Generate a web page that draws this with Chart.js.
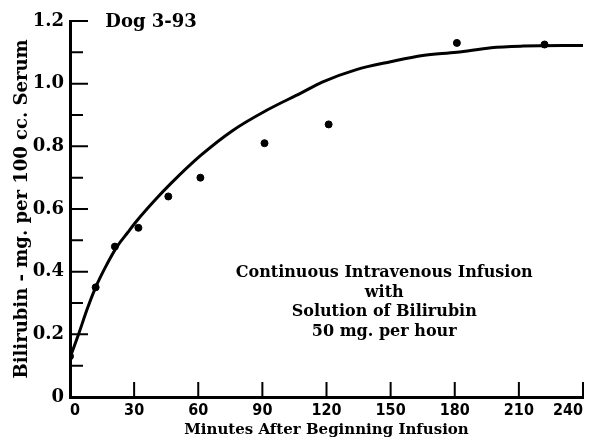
<!DOCTYPE html>
<html>
<head>
<meta charset="utf-8">
<script src="https://cdn.jsdelivr.net/npm/chart.js@4.4.1/dist/chart.umd.min.js"></script>
<style>
    html, body { margin: 0; padding: 0; background: #fff; }
    #wrap { width: 595px; height: 439px; position: relative; }
</style>
</head>
<body>
<div id="wrap"><canvas id="bili"></canvas></div>
<script>
// observed serum bilirubin (mg per 100 cc) against minutes after infusion start
let obsMinutes = [0, 12, 21, 32, 46, 61, 91, 121, 181, 222];
let obsBilirubin = [0.13, 0.35, 0.48, 0.54, 0.64, 0.70, 0.81, 0.87, 1.13, 1.125];

// the smooth curve drawn through them
let curveMinutes = [0, 4, 8, 12, 17, 22, 27, 31, 40, 47, 61, 76, 92, 108, 118, 134, 150, 165, 181, 197, 212, 240];
let curveBilirubin = [0.125, 0.20, 0.28, 0.35, 0.42, 0.48, 0.525, 0.56, 0.63, 0.68, 0.77, 0.85, 0.915, 0.97, 1.005, 1.045, 1.07, 1.09, 1.10, 1.115, 1.12, 1.122];

let xTicks = [30, 60, 90, 120, 150, 180, 210, 240];
let yMajor = [0.2, 0.4, 0.6, 0.8, 1.0, 1.2];
let yMinor = [0.1, 0.3, 0.5, 0.7, 0.9, 1.1];

let note = ['Continuous Intravenous Infusion', 'with', 'Solution of Bilirubin', '50 mg. per hour'];

const FONT = "'DejaVu Serif', 'Liberation Serif', serif";
const NARROW = "'DejaVu Sans Condensed', 'DejaVu Sans', sans-serif";

function toPoints(xs, ys) {
    let out = [];
    for (let i = 0; i < xs.length; i++) {
        out.push({x: xs[i], y: ys[i]});
    }
    return out;
}

// inward tick marks + text notes
const extras = {
    id: 'extras',
    afterDraw(chart) {
        let ctx = chart.ctx;
        let xs = chart.scales.x;
        let ys = chart.scales.y;
        let x0 = xs.getPixelForValue(0);
        let y0 = ys.getPixelForValue(0);

        ctx.save();
        ctx.strokeStyle = '#000';
        ctx.lineWidth = 2;
        ctx.beginPath();
        for (let i = 0; i < xTicks.length; i++) {
            let px = xs.getPixelForValue(xTicks[i]);
            ctx.moveTo(px, y0);
            ctx.lineTo(px, y0 - 15);
        }
        for (let i = 0; i < yMajor.length; i++) {
            let py = ys.getPixelForValue(yMajor[i]);
            ctx.moveTo(x0, py);
            ctx.lineTo(x0 + 18, py);
        }
        for (let i = 0; i < yMinor.length; i++) {
            let py = ys.getPixelForValue(yMinor[i]);
            ctx.moveTo(x0, py);
            ctx.lineTo(x0 + 13, py);
        }
        ctx.stroke();

        ctx.fillStyle = '#000';
        ctx.font = 'bold 18px ' + FONT;
        ctx.textAlign = 'left';
        ctx.textBaseline = 'middle';
        ctx.fillText('Dog 3-93', xs.getPixelForValue(16.5), ys.getPixelForValue(1.2) + 1);

        ctx.font = 'bold 16px ' + FONT;
        ctx.textAlign = 'center';
        let noteY = [0.395, 0.334, 0.272, 0.208];
        for (let i = 0; i < note.length; i++) {
            ctx.fillText(note[i], xs.getPixelForValue(147), ys.getPixelForValue(noteY[i]));
        }
        ctx.restore();
    }
};

let ctx = document.getElementById('bili').getContext('2d');
let chart = new Chart(ctx, {
    type: 'scatter',
    data: {
        datasets: [{
            label: 'curve',
            data: toPoints(curveMinutes, curveBilirubin),
            showLine: true,
            borderColor: '#000',
            borderWidth: 3,
            pointRadius: 0,
            cubicInterpolationMode: 'monotone'
        }, {
            label: 'observed',
            data: toPoints(obsMinutes, obsBilirubin),
            pointRadius: 3.5,
            pointBackgroundColor: '#000',
            pointBorderColor: '#000'
        }]
    },
    options: {
        responsive: true,
        maintainAspectRatio: false,
        animation: false,
        layout: { padding: { top: 21, right: 12, left: 0, bottom: 0 } },
        plugins: {
            legend: { display: false },
            tooltip: { enabled: false }
        },
        scales: {
            x: {
                type: 'linear',
                min: 0,
                max: 240,
                grid: { display: false, drawTicks: false },
                border: { color: '#000', width: 3 },
                ticks: {
                    stepSize: 30,
                    padding: 4,
                    align: 'inner',
                    color: '#000',
                    font: { family: NARROW, size: 16, weight: 'bold' }
                },
                title: {
                    display: true,
                    text: 'Minutes After Beginning Infusion',
                    color: '#000',
                    padding: { top: 3, bottom: 0 },
                    font: { family: FONT, size: 15, weight: 'bold' }
                },
                afterFit(scale) {
                    scale.height = 42;
                    scale.paddingLeft = 0;
                    scale.paddingRight = 0;
                }
            },
            y: {
                min: 0,
                max: 1.2,
                grid: { display: false, drawTicks: false },
                border: { color: '#000', width: 3 },
                ticks: {
                    stepSize: 0.2,
                    padding: 6,
                    color: '#000',
                    font: { family: FONT, size: 18, weight: 'bold' },
                    callback: v => (v === 0 ? '0' : v.toFixed(1))
                },
                title: {
                    display: true,
                    text: 'Bilirubin - mg. per 100 cc. Serum',
                    color: '#000',
                    padding: { top: 12, bottom: 0 },
                    font: { family: FONT, size: 18, weight: 'bold' }
                },
                afterFit(scale) { scale.width = 70; }
            }
        }
    },
    plugins: [extras]
});
</script>
</body>
</html>
